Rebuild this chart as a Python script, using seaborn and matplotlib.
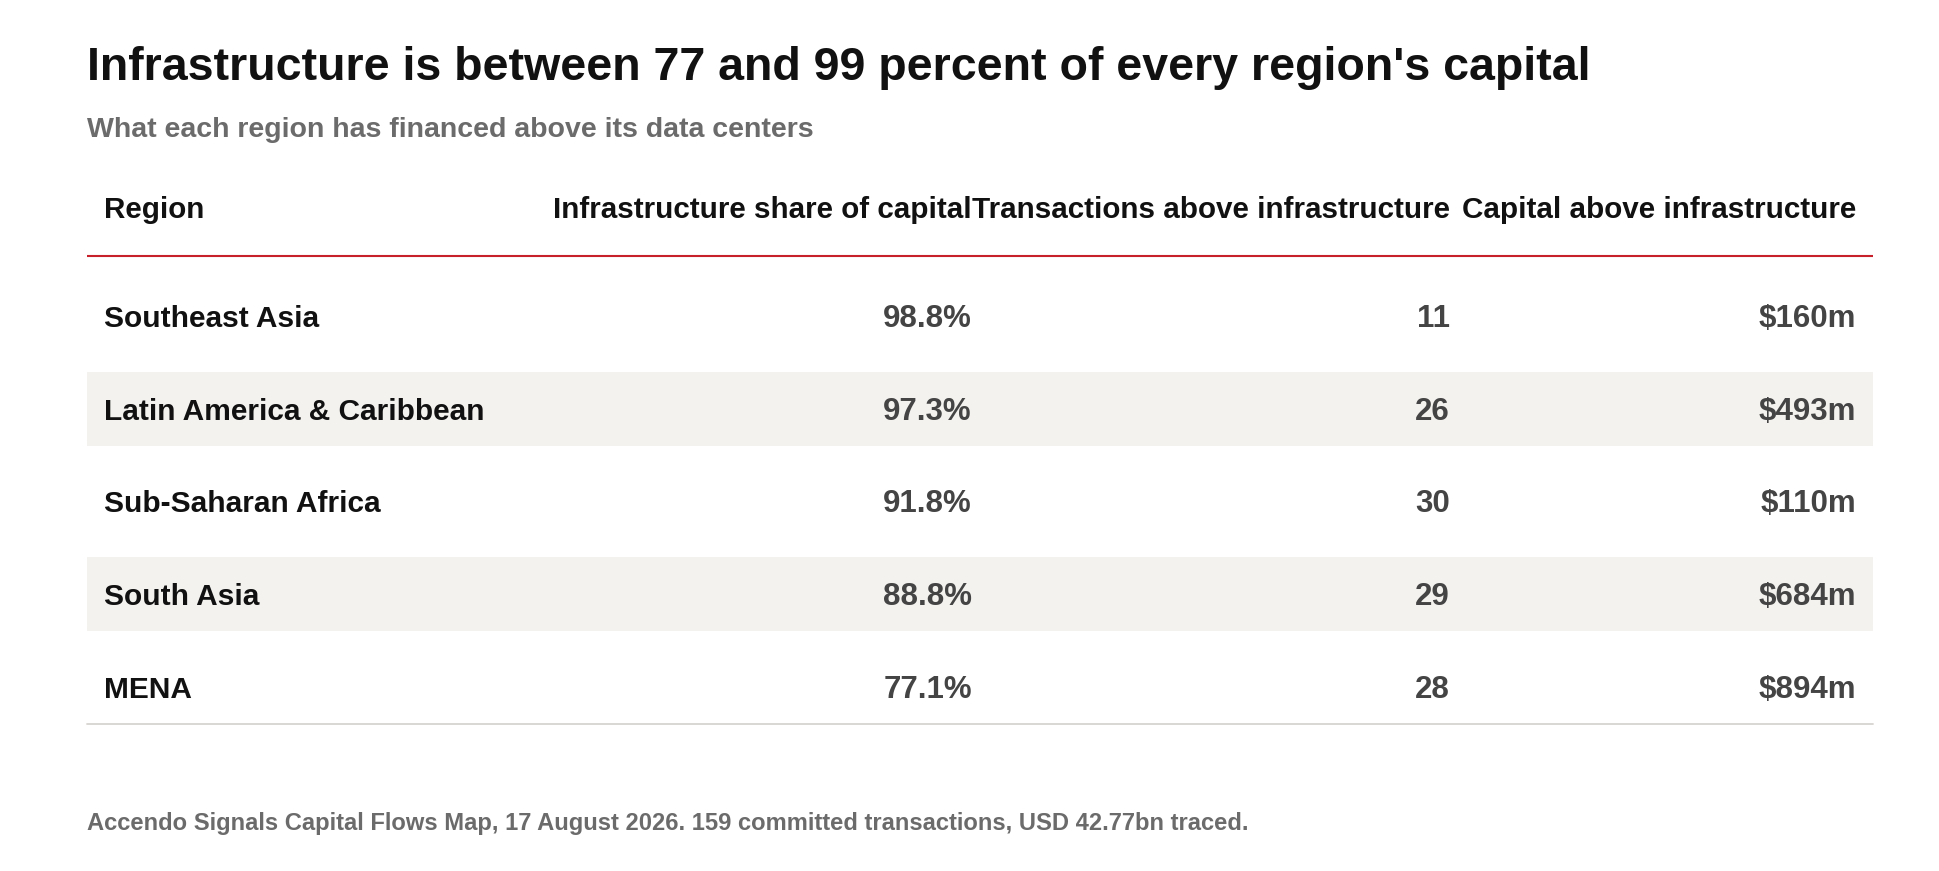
import matplotlib
matplotlib.use("Agg")
import matplotlib.pyplot as plt
import seaborn as sns
import pandas as pd

# ---- data ----
regions = ["Southeast Asia", "Latin America & Caribbean", "Sub-Saharan Africa", "South Asia", "MENA"]
infra_share = [98.8, 97.3, 91.8, 88.8, 77.1]
tx_above = [11, 26, 30, 29, 28]
capital_above_m = [160, 493, 110, 684, 894]
headers = ["Region", "Infrastructure share of capital", "Transactions above infrastructure", "Capital above infrastructure"]
title = "Infrastructure is between 77 and 99 percent of every region's capital"
subtitle = "What each region has financed above its data centers"
footnote = "Accendo Signals Capital Flows Map, 17 August 2026. 159 committed transactions, USD 42.77bn traced."

df = pd.DataFrame({"region": regions, "share": infra_share, "tx": tx_above, "cap": capital_above_m})

sns.set_theme(style="white")
FONT = ["Liberation Sans", "DejaVu Sans"]
plt.rcParams["font.family"] = FONT

W, H = 1940, 871
fig = plt.figure(figsize=(W / 100, H / 100), dpi=100)
ax = fig.add_axes([0, 0, 1, 1])
ax.set_xlim(0, W)
ax.set_ylim(H, 0)
ax.axis("off")

left, right = 87, 1873
pad = 17
col_right = [None, 972, 1450, 1856]
row0_center = 316
row_step = 92.7
band_h = 74

# title / subtitle
ax.text(left, 80, title, fontsize=33.5, fontweight="bold", color="#111111", va="baseline", ha="left")
ax.text(left, 137, subtitle, fontsize=20.5, fontweight="bold", color="#6b6b6b", va="baseline", ha="left")

# header
hdr_base = 218
ax.text(left + pad, hdr_base, headers[0], fontsize=21.3, fontweight="bold", color="#111111", va="baseline", ha="left")
for i in range(1, 4):
    ax.text(col_right[i], hdr_base, headers[i], fontsize=21.3, fontweight="bold", color="#111111",
            va="baseline", ha="right")
ax.plot([left, right], [256, 256], color="#c8202a", lw=1.5, solid_capstyle="butt")

# rows
for i, r in df.iterrows():
    c = row0_center + i * row_step
    if i % 2 == 1:
        ax.fill_between([left, right], c - band_h / 2, c + band_h / 2, color="#f3f2ef", lw=0)
    base = c + 11
    ax.text(left + pad, base, r["region"], fontsize=21.5, fontweight="bold", color="#111111", va="baseline", ha="left")
    ax.text(col_right[1], base, f"{r['share']:.1f}%", fontsize=22.5, fontweight="bold", color="#444444", va="baseline", ha="right")
    ax.text(col_right[2], base, f"{int(r['tx'])}", fontsize=22.5, fontweight="bold", color="#444444", va="baseline", ha="right")
    ax.text(col_right[3], base, f"${int(r['cap'])}m", fontsize=22.5, fontweight="bold", color="#444444", va="baseline", ha="right")

last_bottom = row0_center + (len(df) - 1) * row_step + band_h / 2
ax.plot([left, right], [last_bottom, last_bottom], color="#d6d4d0", lw=1.3)

ax.text(left, 830, footnote, fontsize=17.1, fontweight="bold", color="#6b6b6b", va="baseline", ha="left")

fig.savefig("out.png", dpi=100, facecolor="white")
